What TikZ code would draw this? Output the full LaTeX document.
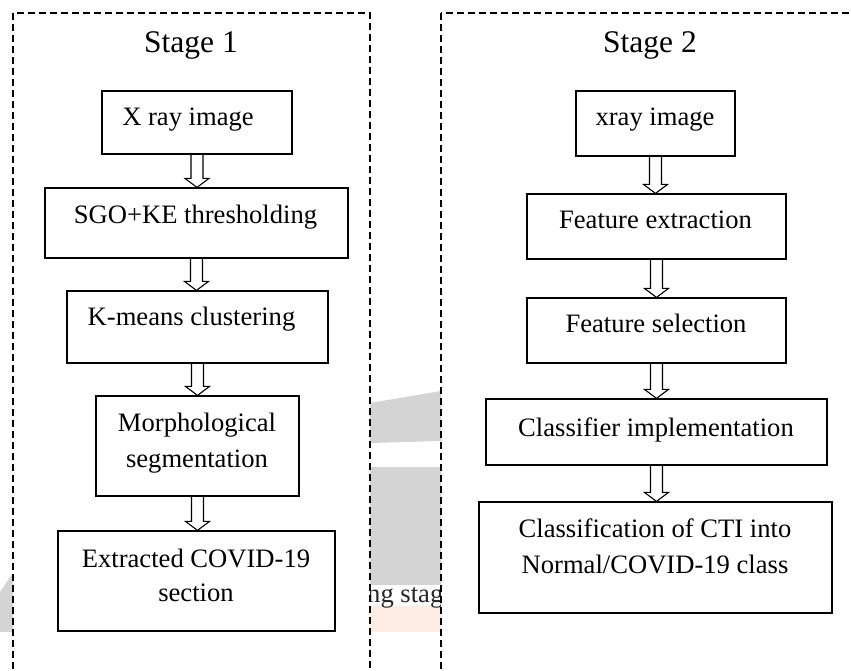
\documentclass[tikz,border=0pt]{standalone}
\usepackage{fontspec}
\setmainfont{Liberation Serif}
\usetikzlibrary{calc}

\definecolor{wmgray}{RGB}{212,212,212}
\definecolor{wmpeach}{RGB}{252,236,228}

\tikzset{
  stagebox/.style={draw, line width=1.3pt, dash pattern=on 7pt off 4pt, fill=white},
  stepbox/.style 2 args={draw, line width=1.2pt, inner sep=0pt, minimum width=#1, minimum height=#2},
  steptext/.style={font=\fontsize{26.6}{35}\selectfont, align=center, inner sep=0pt, anchor=base},
  titletext/.style={font=\fontsize{31.5}{38}\selectfont, inner sep=0pt, anchor=base},
  hollowarrow/.style={draw, line width=1.1pt, line join=miter},
}

% block arrow pointing down from one box to the next
\newcommand{\flowarrow}[2]{%
  \draw[hollowarrow] let \p1=(#1.south), \p2=(#2.north) in
    (\x1-6pt,\y1) -- (\x1-6pt,\y2+9pt) -- (\x1-12pt,\y2+9pt) -- (\x1,\y2)
    -- (\x1+12pt,\y2+9pt) -- (\x1+6pt,\y2+9pt) -- (\x1+6pt,\y1);}

\begin{document}
\begin{tikzpicture}[x=1pt, y=-1pt]
  \useasboundingbox (0,0) rectangle (851,671);
  \clip (0,0) rectangle (851,671);

  % patches of the page behind the two frames
  \fill[wmgray] (370,403) -- (441,391) -- (441,441) -- (370,443) -- cycle;
  \fill[wmgray] (370,467) rectangle (441,585);
  \fill[wmpeach] (370,606) rectangle (441,632);
  \fill[wmgray] (0,592) -- (13,573) -- (13,632) -- (0,632) -- cycle;
  \node[steptext, anchor=base west, text=black!85] (wmtext) at (367,602) {ng stag};

  % dashed frames
  \draw[stagebox] (13,13) rectangle (370,690);
  \draw[stagebox] (441,13) rectangle (870,690);

  \node[titletext] (stage1) at (191,53) {Stage 1};
  \node[titletext] (stage2) at (650,53) {Stage 2};

  % stage 1
  \node[stepbox={190pt}{63pt}] (xray1) at (197,122.5) {};
  \node[stepbox={303pt}{70pt}] (thresh) at (196.5,223) {};
  \node[stepbox={261pt}{72pt}] (kmeans) at (197.5,327) {};
  \node[stepbox={203pt}{100pt}] (morph) at (197.5,446) {};
  \node[stepbox={277pt}{100pt}] (extract) at (196.5,581) {};

  % multi-line texts sit on the baseline of their last line
  \node[steptext] (xray1-t) at (188,126) {X ray image};
  \node[steptext] (thresh-t) at (195.5,223) {SGO+KE thresholding};
  \node[steptext] (kmeans-t) at (191.5,325) {K-means clustering};
  \node[steptext, font=\fontsize{26.6}{36}\selectfont] (morph-t) at (197,467) {Morphological\\segmentation};
  \node[steptext, font=\fontsize{26.6}{34}\selectfont] (extract-t) at (196,601) {Extracted COVID-19\\section};

  \flowarrow{xray1}{thresh}
  \flowarrow{thresh}{kmeans}
  \flowarrow{kmeans}{morph}
  \flowarrow{morph}{extract}

  % stage 2
  \node[stepbox={159pt}{65pt}] (xray2) at (655.5,123.5) {};
  \node[stepbox={259pt}{65pt}] (featext) at (656.5,226.5) {};
  \node[stepbox={259pt}{65pt}] (featsel) at (656.5,330.5) {};
  \node[stepbox={341pt}{66pt}] (classimp) at (656.5,432) {};
  \node[stepbox={353pt}{111pt}] (classout) at (655.5,557.5) {};

  \node[steptext] (xray2-t) at (655,126) {xray image};
  \node[steptext] (featext-t) at (655.5,229) {Feature extraction};
  \node[steptext] (featsel-t) at (656,332) {Feature selection};
  \node[steptext] (classimp-t) at (656,436) {Classifier implementation};
  \node[steptext, font=\fontsize{26.6}{36}\selectfont] (classout-t) at (655,573) {Classification of CTI into\\Normal/COVID-19 class};

  \flowarrow{xray2}{featext}
  \flowarrow{featext}{featsel}
  \flowarrow{featsel}{classimp}
  \flowarrow{classimp}{classout}
\end{tikzpicture}
\end{document}
